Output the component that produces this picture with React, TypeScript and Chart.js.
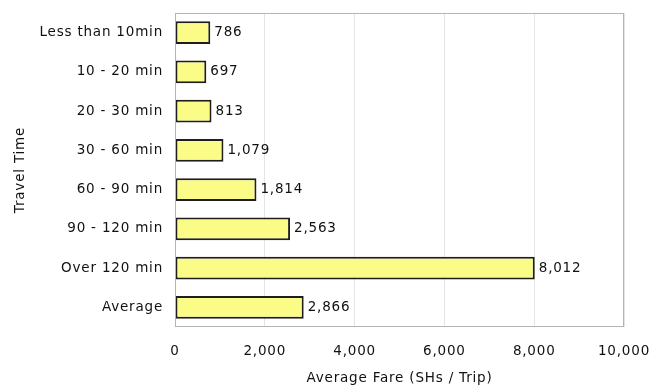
import React, { useEffect, useRef } from "react";
import { Chart, registerables } from "chart.js";

Chart.register(...registerables);

const categories = [
  "Less than 10min",
  "10 - 20 min",
  "20 - 30 min",
  "30 - 60 min",
  "60 - 90 min",
  "90 - 120 min",
  "Over 120 min",
  "Average",
];
const fares = [786, 697, 813, 1079, 1814, 2563, 8012, 2866];
const xTicks = [0, 2000, 4000, 6000, 8000, 10000];

const FONT = "'DejaVu Sans', 'Liberation Sans', Arial, sans-serif";
const TEXT = "#111";
const SPACING = "0.8px";

const fmt = (v: number) => v.toLocaleString("en-US");

// Slightly spaced lettering for every label on the canvas.
const letterSpacing = {
  id: "letterSpacing",
  beforeUpdate(chart: any) {
    chart.ctx.letterSpacing = SPACING;
  },
  beforeDraw(chart: any) {
    chart.ctx.letterSpacing = SPACING;
  },
};

// Writes each bar's value just past its right end and frames the plot area.
const valueLabels = {
  id: "valueLabels",
  afterDatasetsDraw(chart: any) {
    const { ctx, chartArea } = chart;
    ctx.save();
    ctx.strokeStyle = "#b4b4b4";
    ctx.lineWidth = 1;
    ctx.strokeRect(
      Math.round(chartArea.left) + 0.5,
      Math.round(chartArea.top) + 0.5,
      Math.round(chartArea.right - chartArea.left) - 1,
      Math.round(chartArea.bottom - chartArea.top) - 1
    );
    const meta = chart.getDatasetMeta(0);
    ctx.fillStyle = TEXT;
    ctx.font = `13.5px ${FONT}`;
    ctx.textBaseline = "middle";
    ctx.textAlign = "left";
    meta.data.forEach((bar: any, i: number) => {
      ctx.fillText(fmt(fares[i]), bar.x + 4, bar.y);
    });
    ctx.restore();
  },
};

export default function App() {
  const ref = useRef<HTMLCanvasElement | null>(null);

  useEffect(() => {
    document.body.style.margin = "0";
    const canvas = ref.current;
    if (!canvas) return;
    const tickFont = { family: FONT, size: 13.5 };
    const chart = new Chart(canvas, {
      type: "bar",
      data: {
        labels: categories,
        datasets: [
          {
            data: fares,
            backgroundColor: "#fbfb88",
            borderColor: "#1e1e1e",
            borderWidth: 2,
            borderSkipped: false,
            categoryPercentage: 1,
            barPercentage: 0.58,
          },
        ],
      },
      options: {
        indexAxis: "y",
        animation: false,
        responsive: false,
        maintainAspectRatio: false,
        layout: { padding: { top: 13, right: 25, left: 0, bottom: 0 } },
        plugins: {
          legend: { display: false },
          tooltip: { enabled: false },
        },
        scales: {
          x: {
            min: 0,
            max: 10000,
            afterBuildTicks: (scale: any) => {
              scale.ticks = xTicks.map((v) => ({ value: v }));
            },
            afterFit: (scale: any) => {
              scale.height = 60;
              scale.paddingLeft = 0;
              scale.paddingRight = 0;
            },
            grid: {
              color: "#e4e4e4",
              drawTicks: false,
            },
            border: { display: false },
            ticks: {
              color: TEXT,
              font: tickFont,
              padding: 16,
              callback: (v: any) => fmt(Number(v)),
            },
            title: {
              display: true,
              text: "Average Fare (SHs / Trip)",
              color: TEXT,
              font: tickFont,
              padding: { top: 4, bottom: 0 },
            },
          },
          y: {
            afterFit: (scale: any) => {
              scale.width = 175;
              scale.paddingTop = 0;
              scale.paddingBottom = 0;
            },
            grid: { display: false, drawTicks: false },
            border: { display: false },
            ticks: {
              color: TEXT,
              font: tickFont,
              padding: 12,
            },
            title: {
              display: true,
              text: "Travel Time",
              color: TEXT,
              font: tickFont,
              padding: { top: 12, bottom: 0 },
            },
          },
        },
      },
      plugins: [letterSpacing, valueLabels],
    });
    return () => chart.destroy();
  }, []);

  return (
    <div style={{ width: 649, height: 387, background: "#fff" }}>
      <canvas ref={ref} width={649} height={387} />
    </div>
  );
}
